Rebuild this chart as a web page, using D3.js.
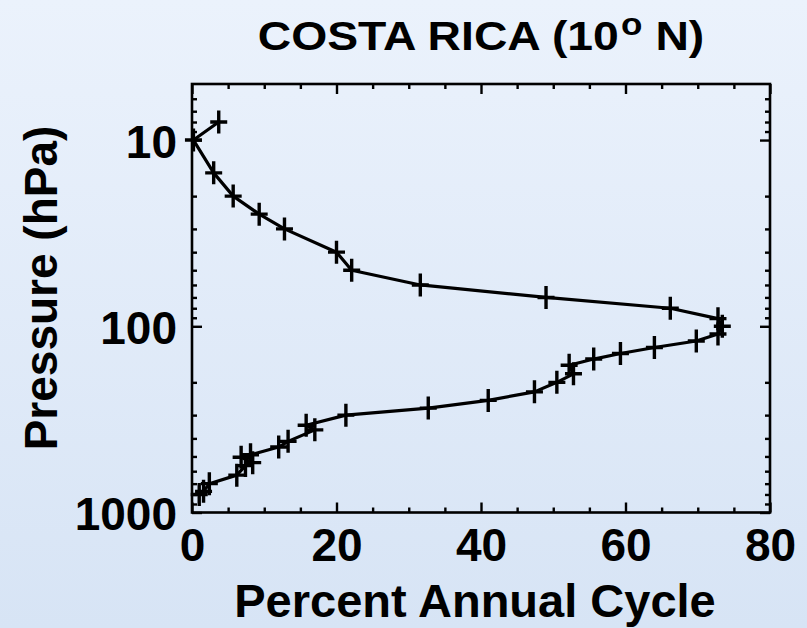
<!DOCTYPE html>
<html>
<head>
<meta charset="utf-8">
<script src="https://cdn.jsdelivr.net/npm/d3@7"></script>
<style>
  html, body { margin: 0; padding: 0; }
  body { width: 807px; height: 628px; overflow: hidden; }
  text { font-family: "Liberation Sans", Arial, Helvetica, sans-serif; font-weight: bold; fill: #000; }
</style>
</head>
<body>
<svg id="chart" width="807" height="628"></svg>
<script>
// Annual-cycle amplitude profile (percent) against pressure level (hPa)
const pressure = [800, 770, 700, 630, 560, 540, 505, 490, 445, 415, 360, 340, 300,
                  275, 250, 225, 200, 180, 162, 150, 140, 130, 120, 110, 100, 91,
                  80, 70, 60, 50, 40, 30, 25, 20, 15, 10, 8];
const percent  = [1.0, 1.6, 2.4, 6.2, 7.4, 8.4, 6.8, 8.1, 12.0, 13.3, 17.0, 15.8, 21.3,
                  32.7, 41.0, 47.4, 50.5, 52.8, 52.2, 55.6, 59.3, 64.0, 69.8, 72.8, 73.4, 72.8,
                  66.2, 49.0, 31.6, 22.1, 20.0, 12.8, 9.3, 5.7, 3.0, 0.2, 3.7];

const xTicks = [0, 20, 40, 60, 80];
const xMinor = [5, 10, 15, 25, 30, 35, 45, 50, 55, 65, 70, 75];
const yTicks = [10, 100, 1000];
const yMinor = [6, 7, 8, 9, 20, 30, 40, 50, 60, 70, 80, 90, 200, 300, 400, 500, 600, 700, 800, 900];

const titleMain = "COSTA RICA (10";
const titleSup = "o";
const titleEnd = " N)";
const xTitle = "Percent Annual Cycle";
const yTitle = "Pressure (hPa)";

const W = 807, H = 628;
const plot = { left: 192, right: 770, top: 84, bottom: 512.5 };

const svg = d3.select("#chart");

// background wash
const defs = svg.append("defs");
const grad = defs.append("linearGradient").attr("id", "bg").attr("x1", 0).attr("y1", 0).attr("x2", 0).attr("y2", 1);
grad.append("stop").attr("offset", "0%").attr("stop-color", "#ebf2fc");
grad.append("stop").attr("offset", "100%").attr("stop-color", "#d7e4f5");
svg.append("rect").attr("width", W).attr("height", H).attr("fill", "url(#bg)");

const x = d3.scaleLinear().domain([0, 80]).range([plot.left, plot.right]);
const y = d3.scaleLog().domain([1000, 5]).range([plot.bottom, plot.top]);

const tickFont = 46;

function styleAxis(g) {
  g.select(".domain").remove();
  g.selectAll(".tick line").attr("stroke", "#000").attr("stroke-width", 2.4);
}

// bottom axis: major with labels, minor without
svg.append("g").attr("transform", `translate(0,${plot.bottom})`)
  .call(d3.axisBottom(x).tickValues(xTicks).tickSize(-10).tickPadding(16).tickFormat(d3.format("d")))
  .call(styleAxis)
  .call(g => g.selectAll("text").attr("font-size", tickFont).attr("font-family", null).attr("dy", "0.71em").attr("y", 16));
svg.append("g").attr("transform", `translate(0,${plot.bottom})`)
  .call(d3.axisBottom(x).tickValues(xMinor).tickSize(-5).tickFormat(""))
  .call(styleAxis);

// top axis mirrors bottom, no labels
svg.append("g").attr("transform", `translate(0,${plot.top})`)
  .call(d3.axisTop(x).tickValues(xTicks).tickSize(-10).tickFormat(""))
  .call(styleAxis);
svg.append("g").attr("transform", `translate(0,${plot.top})`)
  .call(d3.axisTop(x).tickValues(xMinor).tickSize(-5).tickFormat(""))
  .call(styleAxis);

// left axis (log pressure)
svg.append("g").attr("transform", `translate(${plot.left},0)`)
  .call(d3.axisLeft(y).tickValues(yTicks).tickSize(-10).tickPadding(15).tickFormat(d3.format("d")))
  .call(styleAxis)
  .call(g => g.selectAll("text").attr("font-size", tickFont).attr("font-family", null)
    .attr("x", -15).attr("dy", "0.37em"));
svg.append("g").attr("transform", `translate(${plot.left},0)`)
  .call(d3.axisLeft(y).tickValues(yMinor).tickSize(-5).tickFormat(""))
  .call(styleAxis);

// right axis mirrors left, no labels
svg.append("g").attr("transform", `translate(${plot.right},0)`)
  .call(d3.axisRight(y).tickValues(yTicks).tickSize(-10).tickFormat(""))
  .call(styleAxis);
svg.append("g").attr("transform", `translate(${plot.right},0)`)
  .call(d3.axisRight(y).tickValues(yMinor).tickSize(-5).tickFormat(""))
  .call(styleAxis);

// plot frame
svg.append("rect")
  .attr("x", plot.left).attr("y", plot.top)
  .attr("width", plot.right - plot.left).attr("height", plot.bottom - plot.top)
  .attr("fill", "none").attr("stroke", "#000").attr("stroke-width", 2.6);

// profile line
const pts = pressure.map((p, i) => ({ p, v: percent[i] }));
svg.append("path")
  .datum(pts)
  .attr("fill", "none").attr("stroke", "#000").attr("stroke-width", 3.2).attr("stroke-linejoin", "round")
  .attr("d", d3.line().x(d => x(d.v)).y(d => y(d.p)));

// plus markers at every level
svg.append("g").selectAll("path.mk")
  .data(pts).join("path")
  .attr("class", "mk")
  .attr("transform", d => `translate(${x(d.v)},${y(d.p)})`)
  .attr("d", "M-8.5,0H8.5M0,-11.5V11.5")
  .attr("stroke", "#000").attr("stroke-width", 3.4).attr("fill", "none");

// titles
const cx = (plot.left + plot.right) / 2;
const t = svg.append("text").attr("x", 0).attr("y", 0)
  .attr("transform", `translate(${cx},49.5) scale(1.13,1)`)
  .attr("text-anchor", "middle").attr("font-size", 41);
t.append("tspan").text(titleMain);
t.append("tspan").attr("font-size", 31).attr("dy", -15).attr("dx", 2).text(titleSup);
t.append("tspan").attr("dy", 15).text(titleEnd);

svg.append("text").attr("x", cx - 6).attr("y", 617)
  .attr("text-anchor", "middle").attr("font-size", 47).text(xTitle);

svg.append("text").attr("transform", "translate(57,288) rotate(-90)")
  .attr("text-anchor", "middle").attr("font-size", 46).text(yTitle);
</script>
</body>
</html>
